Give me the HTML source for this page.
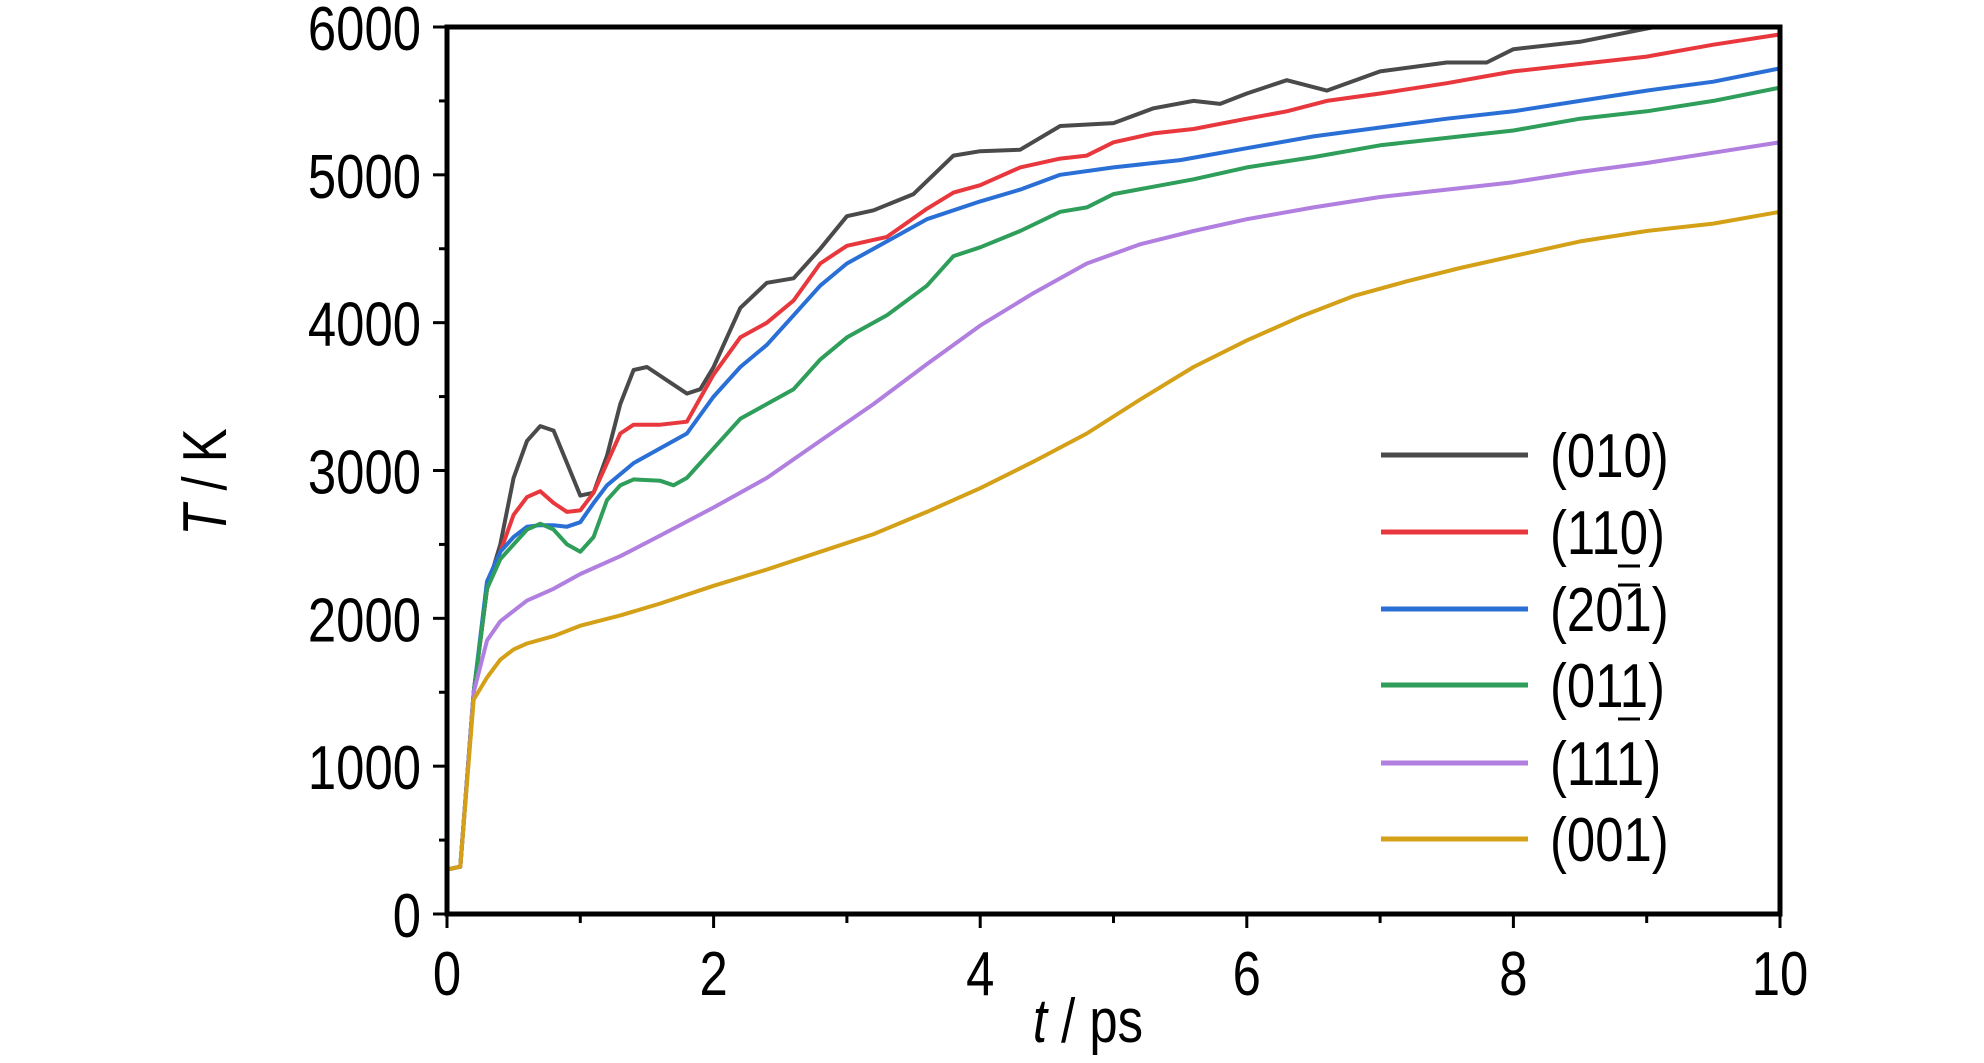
<!DOCTYPE html>
<html><head><meta charset="utf-8"><style>
html,body{margin:0;padding:0;background:#fff}
svg{display:block}
text{font-family:"Liberation Sans Narrow","Liberation Sans",sans-serif;fill:#000}
</style></head><body>
<svg id="chart" width="1984" height="1063" viewBox="0 0 1984 1063" xmlns="http://www.w3.org/2000/svg">
<g id="plot"></g>
</svg>
<script>
const seriesNames = ["(010)","(110)","(201)","(011)","(111)","(001)"];
const seriesColors = ["#4a4a4a","#e8383d","#2a6fd6","#2e9e5a","#b07fe0","#d4a017"];
const t010 = [[0,300],[0.1,320],[0.2,1500],[0.3,2200],[0.4,2500],[0.5,2950],[0.6,3200],[0.7,3300],[0.8,3270],[0.9,3050],[1.0,2830],[1.1,2850],[1.2,3100],[1.3,3450],[1.4,3680],[1.5,3700],[1.6,3640],[1.8,3520],[1.9,3550],[2.0,3700],[2.2,4100],[2.4,4270],[2.6,4300],[2.8,4500],[3.0,4720],[3.2,4760],[3.5,4870],[3.8,5130],[4.0,5160],[4.3,5170],[4.6,5330],[5.0,5350],[5.3,5450],[5.6,5500],[5.8,5480],[6.0,5550],[6.3,5640],[6.6,5570],[7.0,5700],[7.5,5760],[7.8,5760],[8.0,5850],[8.5,5900],[9.0,5990],[9.2,6020],[10,6050]];
const t110 = [[0,300],[0.1,320],[0.2,1500],[0.3,2200],[0.4,2450],[0.5,2700],[0.6,2820],[0.7,2860],[0.8,2780],[0.9,2720],[1.0,2730],[1.1,2850],[1.2,3050],[1.3,3250],[1.4,3310],[1.6,3310],[1.8,3330],[2.0,3650],[2.2,3900],[2.4,4000],[2.6,4150],[2.8,4400],[3.0,4520],[3.3,4580],[3.6,4770],[3.8,4880],[4.0,4930],[4.3,5050],[4.6,5110],[4.8,5130],[5.0,5220],[5.3,5280],[5.6,5310],[6.0,5380],[6.3,5430],[6.6,5500],[7.0,5550],[7.5,5620],[8.0,5700],[8.5,5750],[9.0,5800],[9.5,5880],[10,5950]];
const t201 = [[0,300],[0.1,320],[0.2,1500],[0.3,2250],[0.4,2450],[0.5,2550],[0.6,2620],[0.7,2630],[0.8,2630],[0.9,2620],[1.0,2650],[1.1,2780],[1.2,2900],[1.4,3050],[1.6,3150],[1.8,3250],[2.0,3500],[2.2,3700],[2.4,3850],[2.6,4050],[2.8,4250],[3.0,4400],[3.3,4550],[3.6,4700],[4.0,4820],[4.3,4900],[4.6,5000],[5.0,5050],[5.5,5100],[6.0,5180],[6.5,5260],[7.0,5320],[7.5,5380],[8.0,5430],[8.5,5500],[9.0,5570],[9.5,5630],[10,5720]];
const t011 = [[0,300],[0.1,320],[0.2,1500],[0.3,2200],[0.4,2400],[0.5,2500],[0.6,2600],[0.7,2640],[0.8,2600],[0.9,2500],[1.0,2450],[1.1,2550],[1.2,2800],[1.3,2900],[1.4,2940],[1.6,2930],[1.7,2900],[1.8,2950],[2.0,3150],[2.2,3350],[2.4,3450],[2.6,3550],[2.8,3750],[3.0,3900],[3.3,4050],[3.6,4250],[3.8,4450],[4.0,4510],[4.3,4620],[4.6,4750],[4.8,4780],[5.0,4870],[5.3,4920],[5.6,4970],[6.0,5050],[6.5,5120],[7.0,5200],[7.5,5250],[8.0,5300],[8.5,5380],[9.0,5430],[9.5,5500],[10,5590]];
const t111 = [[0,300],[0.1,320],[0.2,1500],[0.3,1850],[0.4,1980],[0.5,2050],[0.6,2120],[0.8,2200],[1.0,2300],[1.3,2420],[1.6,2560],[2.0,2750],[2.4,2950],[2.8,3200],[3.2,3450],[3.6,3720],[4.0,3980],[4.4,4200],[4.8,4400],[5.2,4530],[5.6,4620],[6.0,4700],[6.5,4780],[7.0,4850],[7.5,4900],[8.0,4950],[8.5,5020],[9.0,5080],[9.5,5150],[10,5220]];
const t001 = [[0,300],[0.1,320],[0.2,1450],[0.3,1600],[0.4,1720],[0.5,1790],[0.6,1830],[0.8,1880],[1.0,1950],[1.3,2020],[1.6,2100],[2.0,2220],[2.4,2330],[2.8,2450],[3.2,2570],[3.6,2720],[4.0,2880],[4.4,3060],[4.8,3250],[5.2,3480],[5.6,3700],[6.0,3880],[6.4,4040],[6.8,4180],[7.2,4280],[7.6,4370],[8.0,4450],[8.5,4550],[9.0,4620],[9.5,4670],[10,4750]];
const xTicks = [0,2,4,6,8,10];
const yTicks = [0,1000,2000,3000,4000,5000,6000];

const L=447,R=1780,T=27,B=914;
const xs=t=>L+(t/10)*(R-L);
const ys=v=>B-(v/6000)*(B-T);
const NS="http://www.w3.org/2000/svg";
const g=document.getElementById('plot');
function mk(tag,attrs,parent){const e=document.createElementNS(NS,tag);for(const k in attrs)e.setAttribute(k,attrs[k]);(parent||g).appendChild(e);return e;}
const SX=0.82;
function txt(x,y,anchor,size,parent){return mk('text',{x:0,y:0,'text-anchor':anchor,'font-size':size,transform:'translate('+x+','+y+') scale('+SX+',1)'},parent);}

const defs=mk('defs',{});
const cp=mk('clipPath',{id:'clip'},defs);
mk('rect',{x:L,y:T,width:R-L,height:B-T},cp);

const data=[t010,t110,t201,t011,t111,t001];
data.forEach((s,i)=>{
  const p=mk('path',{d:s.map((d,j)=>(j?'L':'M')+xs(d[0]).toFixed(1)+','+ys(d[1]).toFixed(1)).join(''),fill:'none',stroke:seriesColors[i],'stroke-width':4,'stroke-linejoin':'round','clip-path':'url(#clip)'});
  
  
});

const fr=mk('rect',{x:L,y:T,width:R-L,height:B-T,fill:'none',stroke:'#000','stroke-width':5});



for(let v=0;v<=10;v+=1){
  const tk=mk('line',{x1:xs(v),x2:xs(v),y1:B,y2:B+(v%2===0?14:9),stroke:'#000','stroke-width':3});
  
  
}
xTicks.forEach(v=>{
  const tx=txt(xs(v),995,'middle',62);
  
  
  tx.textContent=v;
});
for(let v=0;v<=6000;v+=500){
  const tk=mk('line',{x1:L,x2:L-(v%1000===0?14:8),y1:ys(v),y2:ys(v),stroke:'#000','stroke-width':3});
  
  
}
yTicks.forEach(v=>{
  const tx=txt(421,ys(v)+23,'end',62);
  
  
  tx.textContent=v;
});

const xt=txt(1088,1042,'middle',62);


xt.innerHTML='<tspan font-style="italic">t</tspan> / ps';
const yt=mk('text',{x:0,y:0,'text-anchor':'middle','font-size':62,transform:'translate(226,482) rotate(-90) scale('+SX+',1)'});


yt.innerHTML='<tspan font-style="italic">T</tspan> / K';

const legY=[455,532,609,685,763,839];
seriesNames.forEach((n,i)=>{
  const lg=mk('g',{});
  
  
  mk('line',{x1:1381,x2:1528,y1:legY[i],y2:legY[i],stroke:seriesColors[i],'stroke-width':5},lg);
  const tx=txt(1550,legY[i]+22,'start',62,lg);
  tx.textContent=n;
  if(i===1||i===3){mk('line',{x1:1618,x2:1640,y1:legY[i]+34,y2:legY[i]+34,stroke:'#000','stroke-width':3},lg);}
  if(i===2){mk('line',{x1:1618,x2:1640,y1:legY[i]-24,y2:legY[i]-24,stroke:'#000','stroke-width':3},lg);}
});
</script>
</body></html>
